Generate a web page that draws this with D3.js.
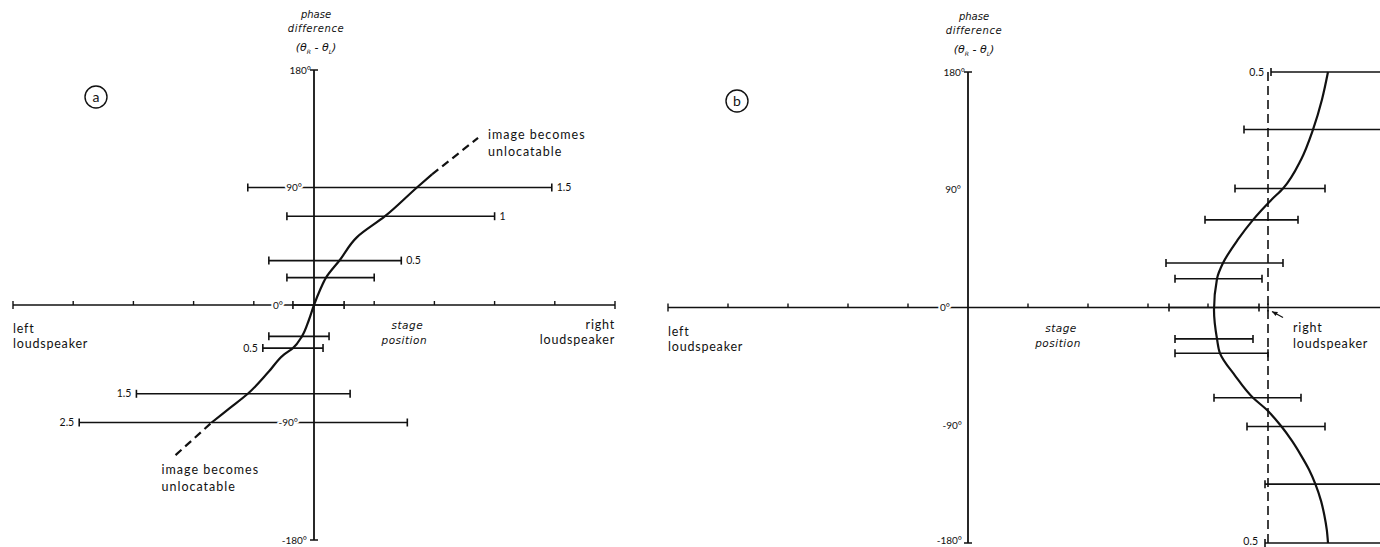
<!DOCTYPE html>
<html>
<head>
<meta charset="utf-8">
<script src="https://cdn.jsdelivr.net/npm/d3@7"></script>
<style>
  body { margin: 0; background: #fff; }
  svg text { font-family: Lato, "Open Sans", sans-serif; fill: #111; }
  svg text.it { font-family: "DejaVu Sans", sans-serif; font-style: italic; }
</style>
</head>
<body>
<svg id="chart" width="1380" height="547"></svg>
<script>
// Stage position: left loudspeaker = -1, centre = 0, right loudspeaker = +1
const stageTicks = [-1, -0.8, -0.6, -0.4, -0.2, 0.2, 0.4, 0.6, 0.8, 1];
// Phase difference (degrees)
const phaseTicks = [180, 90, 0, -90, -180];
const phaseTickLabels = ["180°", "90°", "0°", "-90°", "-180°"];

// ---- (a) ----
const barPhaseA = [90, 68, 34, 21, 0, -24, -33, -68, -90];
const barLowA   = [-0.22, -0.09, -0.15, -0.09, -0.07, -0.15, -0.17, -0.59, -0.78];
const barHighA  = [0.79, 0.60, 0.29, 0.20, 0.10, 0.05, 0.03, 0.12, 0.31];
const barNoteA  = ["1.5", "1", "0.5", "", "", "", "0.5", "1.5", "2.5"];

const curveStageA = [0.392, 0.342, 0.236, 0.143, 0.086, 0.04, 0.02, 0, -0.017, -0.04, -0.07, -0.10, -0.15, -0.22, -0.28, -0.34];
const curvePhaseA = [100, 90, 68, 52, 34.5, 21, 11.5, 0, -11.5, -24, -33, -38, -51, -68, -79, -90];
// unlocatable continuation at each end
const dashStageLowA = [-0.46, -0.34];
const dashPhaseLowA = [-115, -90];
const dashStageHighA = [0.392, 0.545];
const dashPhaseHighA = [100, 128];

// ---- (b) ----
const barPhaseB = [180, 136, 91, 67, 34, 22, 0, -24, -35, -69, -91, -135, -180];
const barLowB   = [1.01, 0.92, 0.89, 0.79, 0.66, 0.69, 0.67, 0.69, 0.69, 0.82, 0.93, 0.99, 0.99];
const barHighB  = [1.5, 1.5, 1.19, 1.10, 1.05, 0.98, 0.97, 0.95, 1.00, 1.11, 1.19, 1.5, 1.5];
const barNoteB  = ["0.5", "", "", "", "", "", "", "", "", "", "", "", "0.5"];

const curveStageB = [1.20, 1.18, 1.15, 1.11, 1.05, 1.01, 0.95, 0.90, 0.85, 0.83, 0.82, 0.83, 0.84, 0.89, 0.95, 0.995, 1.045, 1.08, 1.11, 1.137, 1.158, 1.177, 1.188, 1.196, 1.20];
const curvePhaseB = [180, 159, 136, 113, 91, 82, 67, 52, 34, 22, -2, -24, -35, -52, -69, -78, -91, -102, -113, -124, -135, -148, -159, -170, -180];

const svg = d3.select("#chart");
const INK = "#111";

function halo(sel) {
  return sel.attr("stroke", "#fff").attr("stroke-width", 4)
            .attr("paint-order", "stroke").attr("stroke-linejoin", "round");
}

function drawPanel(o) {
  const g = svg.append("g");
  const x = o.x, y = o.y;
  const x0 = x(0), y0 = y(0);

  // horizontal stage-position axis
  g.append("line").attr("x1", x(-1)).attr("x2", o.axisRight).attr("y1", y0).attr("y2", y0)
    .attr("stroke", INK).attr("stroke-width", 1.6);
  g.selectAll(".stick").data(stageTicks).join("line")
    .attr("x1", d => x(d)).attr("x2", d => x(d))
    .attr("y1", y0 - 4)
    .attr("y2", d => Math.abs(d) === 1 ? y0 + 4 : y0)
    .attr("stroke", INK).attr("stroke-width", 1.4);

  // error bars
  const bars = o.barPhase.map((p, i) => ({ p, lo: o.barLow[i], hi: o.barHigh[i], note: o.barNote[i] }));
  const bg = g.append("g").attr("stroke", INK).attr("stroke-width", 1.6);
  bars.forEach(b => {
    const yy = y(b.p);
    bg.append("line").attr("x1", x(b.lo)).attr("x2", x(b.hi)).attr("y1", yy).attr("y2", yy);
    bg.append("line").attr("x1", x(b.lo)).attr("x2", x(b.lo)).attr("y1", yy - 4).attr("y2", yy + 4);
    bg.append("line").attr("x1", x(b.hi)).attr("x2", x(b.hi)).attr("y1", yy - 4).attr("y2", yy + 4);
  });

  // notes beside the bars
  bars.forEach(b => {
    if (!b.note) return;
    const right = o.noteSide(b);
    g.append("text")
      .attr("x", right ? x(b.hi) + 5 : x(b.lo) - o.noteGap)
      .attr("y", Math.min(y(b.p), 541)).attr("dy", "0.35em")
      .attr("text-anchor", right ? "start" : "end")
      .attr("font-size", 10.5).text(b.note);
  });

  // phase tick labels (sit on the lines with a white gap)
  phaseTicks.forEach((t, i) => {
    halo(g.append("text")
      .attr("x", x0 - o.labelGap[i]).attr("y", Math.min(y(t), 540)).attr("dy", "0.35em")
      .attr("text-anchor", "end").attr("font-size", 10).text(phaseTickLabels[i]));
  });

  // vertical phase axis with end caps
  g.append("line").attr("x1", x0).attr("x2", x0).attr("y1", y(180)).attr("y2", y(-180))
    .attr("stroke", INK).attr("stroke-width", 1.8);
  [180, -180].forEach(t => g.append("line")
    .attr("x1", x0 - 4).attr("x2", x0 + 4).attr("y1", y(t)).attr("y2", y(t))
    .attr("stroke", INK).attr("stroke-width", 1.5));

  // axis title
  const tx = x0 + o.titleShift;
  g.append("text").attr("class", "it").attr("x", tx).attr("y", y(180) - 52)
    .attr("text-anchor", "middle").attr("font-size", 10).text("phase");
  g.append("text").attr("class", "it").attr("x", tx).attr("y", y(180) - 38)
    .attr("text-anchor", "middle").attr("font-size", 10).attr("letter-spacing", 0.6).text("difference");
  const th = g.append("text").attr("class", "it").attr("x", tx).attr("y", y(180) - 19)
    .attr("text-anchor", "middle").attr("font-size", 11);
  th.append("tspan").text("(θ");
  th.append("tspan").attr("font-size", 6).attr("dy", 3).text("R");
  th.append("tspan").attr("dy", -3).text(" - θ");
  th.append("tspan").attr("font-size", 6).attr("dy", 3).text("L");
  th.append("tspan").attr("dy", -3).text(")");

  // end labels of the stage axis
  g.append("text").attr("x", x(-1)).attr("y", y0 + 28).attr("font-size", 12.5).attr("letter-spacing", 0.8).text("left");
  g.append("text").attr("x", x(-1)).attr("y", y0 + 43).attr("font-size", 12.5).attr("letter-spacing", 0.8).text("loudspeaker");
  g.append("text").attr("class", "it").attr("x", x(0.31)).attr("y", y0 + 24)
    .attr("text-anchor", "middle").attr("font-size", 10.5).attr("letter-spacing", 0.5).text("stage");
  g.append("text").attr("class", "it").attr("x", x(0.30)).attr("y", y0 + 39)
    .attr("text-anchor", "middle").attr("font-size", 10.5).attr("letter-spacing", 0.5).text("position");

  // panel letter
  g.append("circle").attr("cx", o.letterAt[0]).attr("cy", o.letterAt[1]).attr("r", 11)
    .attr("fill", "none").attr("stroke", INK).attr("stroke-width", 1.4);
  g.append("text").attr("x", o.letterAt[0]).attr("y", o.letterAt[1]).attr("dy", "0.33em")
    .attr("text-anchor", "middle").attr("font-size", 14).text(o.letter);

  // fitted curve: stage position as a smooth function of phase
  const line = d3.line().x(d => x(d[0])).y(d => y(d[1])).curve(d3.curveMonotoneY);
  g.append("path").datum(o.curveStage.map((s, i) => [s, o.curvePhase[i]]))
    .attr("d", line).attr("fill", "none").attr("stroke", INK).attr("stroke-width", 2.2);

  return g;
}

// ---- panel (a) ----
const xA = d3.scaleLinear([-1, 1], [13, 615]);
const yA = d3.scaleLinear([-180, 180], [540, 70]);
const gA = drawPanel({
  x: xA, y: yA, axisRight: xA(1),
  barPhase: barPhaseA, barLow: barLowA, barHigh: barHighA, barNote: barNoteA,
  noteSide: b => b.p > 0, noteGap: 5,
  labelGap: [3, 12, 31, 16, 7],
  titleShift: 2,
  curveStage: curveStageA, curvePhase: curvePhaseA,
  letter: "a", letterAt: [96, 97]
});
gA.append("text").attr("x", xA(1)).attr("y", yA(0) + 24).attr("text-anchor", "end")
  .attr("font-size", 12.5).attr("letter-spacing", 0.8).text("right");
gA.append("text").attr("x", xA(1)).attr("y", yA(0) + 39).attr("text-anchor", "end")
  .attr("font-size", 12.5).attr("letter-spacing", 0.8).text("loudspeaker");

// dashed continuations where the image becomes unlocatable
[[dashStageLowA, dashPhaseLowA], [dashStageHighA, dashPhaseHighA]].forEach(([s, p]) => {
  gA.append("line").attr("x1", xA(s[0])).attr("y1", yA(p[0])).attr("x2", xA(s[1])).attr("y2", yA(p[1]))
    .attr("stroke", INK).attr("stroke-width", 2.2).attr("stroke-dasharray", "8,5");
});
const upEnd = [xA(dashStageHighA[1]), yA(dashPhaseHighA[1])];
const lowEnd = [xA(dashStageLowA[0]), yA(dashPhaseLowA[0])];
[["image becomes", 0], ["unlocatable", 17]].forEach(([t, dy]) => {
  gA.append("text").attr("x", upEnd[0] + 10).attr("y", upEnd[1] + 1 + dy)
    .attr("font-size", 12.5).attr("letter-spacing", 1).text(t);
  gA.append("text").attr("x", lowEnd[0] - 14).attr("y", lowEnd[1] + 19 + dy)
    .attr("font-size", 12.5).attr("letter-spacing", 1).text(t);
});

// ---- panel (b) ----
const xB = d3.scaleLinear([-1, 1], [668, 1268]);
const yB = d3.scaleLinear([-180, 180], [543, 72]);
const gB = drawPanel({
  x: xB, y: yB, axisRight: 1380,
  barPhase: barPhaseB, barLow: barLowB, barHigh: barHighB, barNote: barNoteB,
  noteSide: () => false, noteGap: 7,
  labelGap: [3, 7, 18, 6, 6],
  titleShift: 6,
  curveStage: curveStageB, curvePhase: curvePhaseB,
  letter: "b", letterAt: [737, 101]
});
// right loudspeaker position
gB.append("line").attr("x1", xB(1)).attr("x2", xB(1)).attr("y1", yB(180)).attr("y2", yB(-180))
  .attr("stroke", INK).attr("stroke-width", 1.6).attr("stroke-dasharray", "9,5");
gB.append("text").attr("x", xB(1) + 25).attr("y", yB(0) + 24)
  .attr("font-size", 12.5).attr("letter-spacing", 0.8).text("right");
gB.append("text").attr("x", xB(1) + 25).attr("y", yB(0) + 40)
  .attr("font-size", 12.5).attr("letter-spacing", 0.8).text("loudspeaker");
// pointer to the loudspeaker mark
const ax = xB(1) + 4, ay = yB(0) + 4;
gB.append("line").attr("x1", ax + 11).attr("y1", ay + 6).attr("x2", ax).attr("y2", ay)
  .attr("stroke", INK).attr("stroke-width", 1.2);
gB.append("path").attr("d", `M${ax},${ay} l6,0.5 l-2.5,4 z`).attr("fill", INK);
</script>
</body>
</html>
